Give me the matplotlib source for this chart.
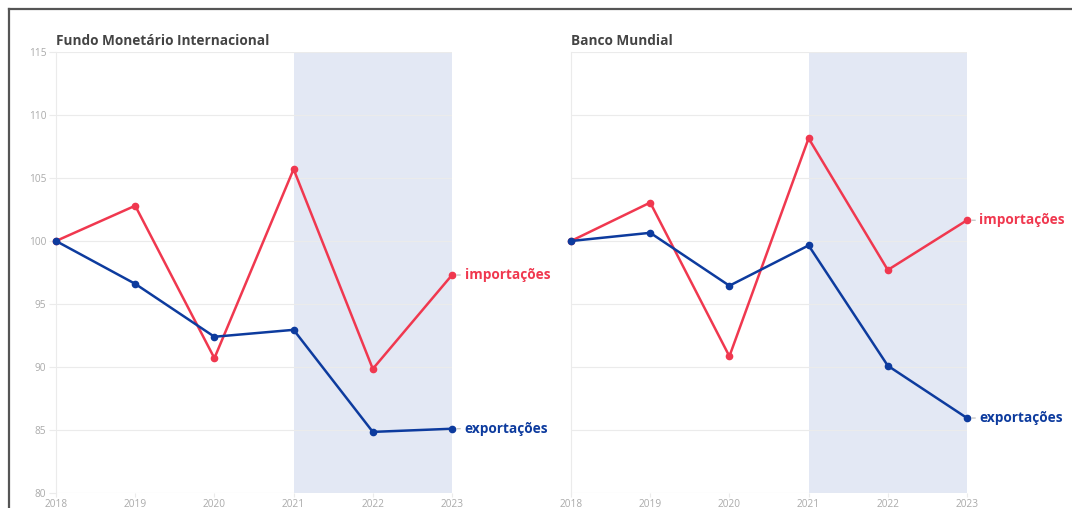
import matplotlib
matplotlib.use("Agg")
import matplotlib.pyplot as plt
from matplotlib.lines import Line2D

# data (index, 2018 = 100)
years = [2018, 2019, 2020, 2021, 2022, 2023]
titles = ["Fundo Monetário Internacional", "Banco Mundial"]
fmi_imp = [100, 102.8, 90.7, 105.7, 89.85, 97.3]
fmi_exp = [100, 96.6, 92.4, 92.95, 84.85, 85.1]
bm_imp = [100, 103.05, 90.85, 108.15, 97.7, 101.65]
bm_exp = [100, 100.65, 96.45, 99.65, 90.1, 85.95]
yticks = [80, 85, 90, 95, 100, 105, 110, 115]
shade_from, shade_to = 2021, 2023

RED = "#f0384f"
BLUE = "#0d3b9e"
GRID = "#ebebeb"
TICK = "#aaaaaa"

plt.rcParams["font.family"] = ["Open Sans", "DejaVu Sans"]

fig = plt.figure(figsize=(10.72, 5.08), dpi=100)
W, H = 1072, 508

panels = [(56, fmi_imp, fmi_exp, True), (571, bm_imp, bm_exp, False)]
for i, (x0, imp, exp, show_y) in enumerate(panels):
    ax = fig.add_axes([x0 / W, (H - 493) / H, 396 / W, 441 / H])
    ax.set_xlim(2018, 2023)
    ax.set_ylim(80, 115)
    ax.axvspan(shade_from, shade_to, color="#e3e8f4", zorder=0, lw=0)
    ax.set_yticks(yticks)
    ax.set_xticks(years)
    ax.grid(axis="y", color=GRID, lw=0.8, zorder=1)
    ax.set_axisbelow(True)
    for s in ["top", "right", "bottom"]:
        ax.spines[s].set_visible(False)
    ax.spines["left"].set_color(GRID)
    ax.spines["left"].set_linewidth(0.8)
    ax.tick_params(axis="y", length=5 if show_y else 0, color=GRID,
                   labelcolor=TICK, labelsize=7.3, pad=2, labelleft=show_y)
    ax.tick_params(axis="x", length=3, color=GRID, labelcolor=TICK,
                   labelsize=7.3, pad=1)

    for vals, col, name in [(imp, RED, "importações"), (exp, BLUE, "exportações")]:
        ax.plot(years, vals, color=col, lw=1.8, marker="o", ms=4.5,
                zorder=3, clip_on=False)
        ax.annotate(name, xy=(years[-1], vals[-1]), xytext=(9, 0),
                    textcoords="offset points", va="center", ha="left",
                    color=col, fontsize=9.8, fontweight="bold",
                    annotation_clip=False,
                    arrowprops=dict(arrowstyle="-", color="#bbbbbb", lw=0.8,
                                    shrinkA=1, shrinkB=3.5))

    ax.text(0.0, 1.01, titles[i], transform=ax.transAxes, ha="left",
            va="bottom", fontsize=9.8, fontweight="bold", color="#444444")

# dark frame along top and left edge
fig.add_artist(Line2D([9 / W, 1], [1 - 9 / H, 1 - 9 / H], color="#555555",
                      lw=1.6, transform=fig.transFigure))
fig.add_artist(Line2D([9 / W, 9 / W], [0, 1 - 9 / H], color="#555555",
                      lw=1.6, transform=fig.transFigure))

fig.savefig("out.png", dpi=100)
